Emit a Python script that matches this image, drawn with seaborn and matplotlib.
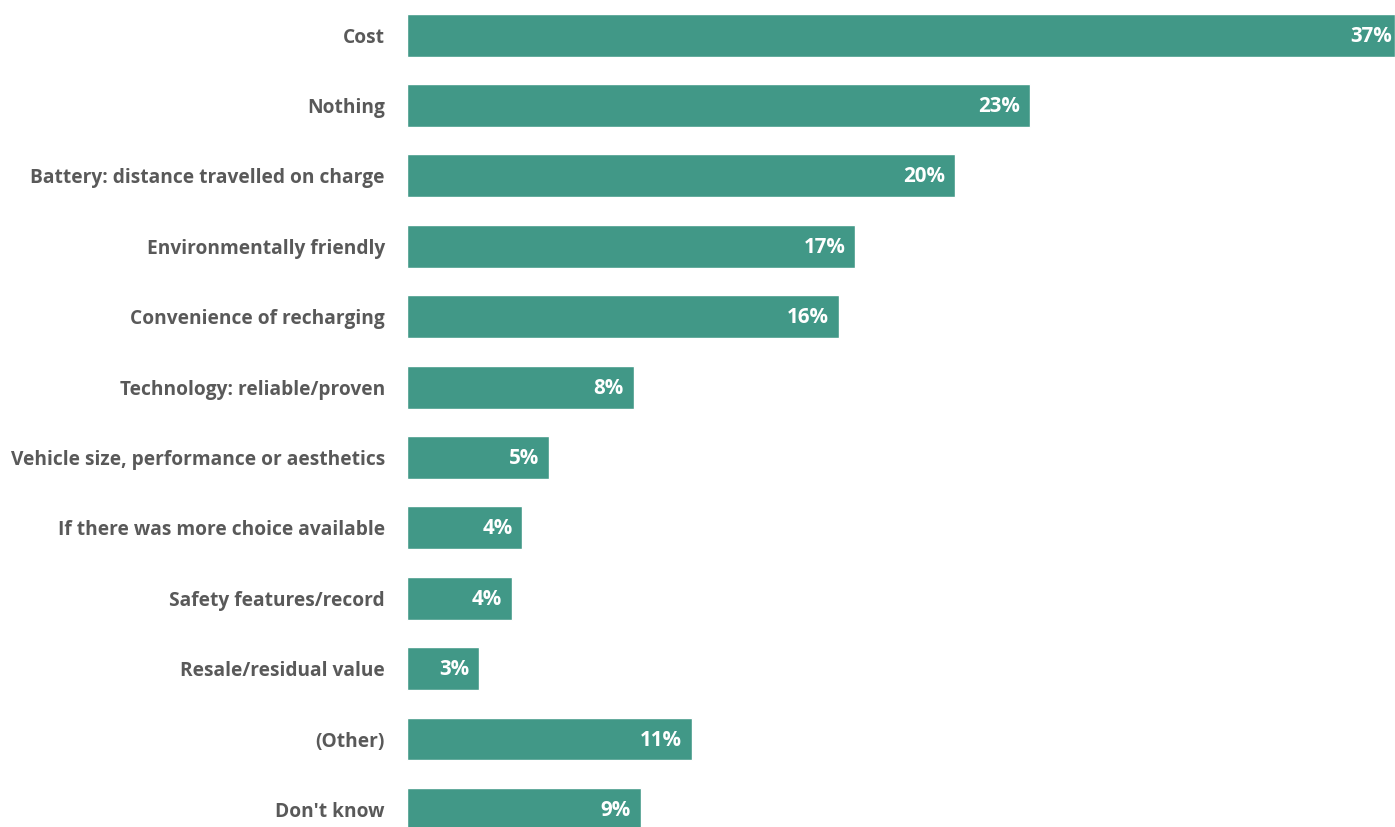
import matplotlib
matplotlib.use("Agg")
import matplotlib.pyplot as plt
import seaborn as sns
import pandas as pd

# Reasons that would encourage choosing an electric vehicle (% of respondents)
categories = [
    "Cost",
    "Nothing",
    "Battery: distance travelled on charge",
    "Environmentally friendly",
    "Convenience of recharging",
    "Technology: reliable/proven",
    "Vehicle size, performance or aesthetics",
    "If there was more choice available",
    "Safety features/record",
    "Resale/residual value",
    "(Other)",
    "Don't know",
]
values = [36.8, 23.2, 20.4, 16.7, 16.1, 8.45, 5.3, 4.3, 3.9, 2.7, 10.6, 8.7]

df = pd.DataFrame({"reason": categories, "pct": values})

sns.set_theme(style="white")
plt.rcParams["font.family"] = ["Open Sans", "DejaVu Sans"]

fig = plt.figure(figsize=(13.95, 8.27), dpi=100)
ax = fig.add_axes([407 / 1395, -17.6 / 827, 988 / 1395, 844.6 / 827])

bar_color = "#419887"
sns.barplot(data=df, y="reason", x="pct", orient="h", color=bar_color,
            width=0.61, saturation=1, ax=ax)

ax.set_xlim(0, max(values))
ax.set_xlabel("")
ax.set_ylabel("")
ax.set_xticks([])
sns.despine(ax=ax, left=True, bottom=True, top=True, right=True)

ax.tick_params(axis="y", length=0, pad=16)
for lbl in ax.get_yticklabels():
    lbl.set_fontweight("bold")
    lbl.set_fontsize(13.75)
    lbl.set_color("#595959")

# Value labels inside the end of each bar
for i, v in enumerate(values):
    off = -3 if v == max(values) else -10
    ax.annotate(f"{v:.0f}%", xy=(v, i), xytext=(off, -1), textcoords="offset pixels",
                ha="right", va="center", color="white", fontweight="bold",
                fontsize=14.8, clip_on=False)

fig.savefig("out.png", dpi=100)
